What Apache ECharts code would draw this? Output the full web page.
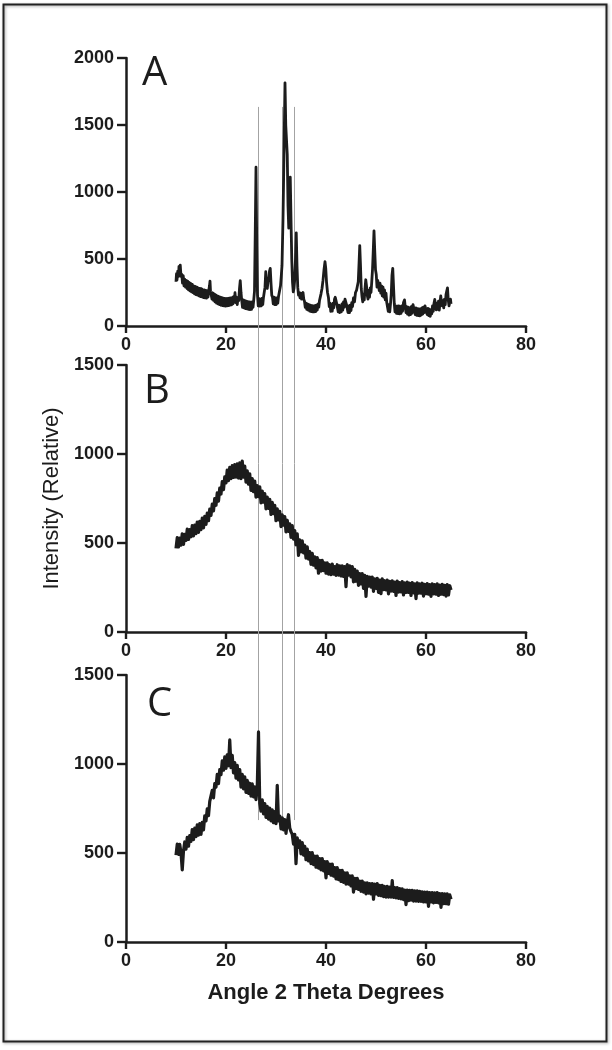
<!DOCTYPE html>
<html>
<head>
<meta charset="utf-8">
<script src="https://cdn.jsdelivr.net/npm/echarts@6.0.0/dist/echarts.min.js"></script>
<style>
  html, body { margin: 0; padding: 0; background: #ffffff; }
  #chart { width: 612px; height: 1050px; }
</style>
</head>
<body>
<div id="chart"></div>
<script>
// ---------- DATA ----------
const panelLabels = ['A', 'B', 'C'];
const xTicks = [0, 20, 40, 60, 80];
const yTicksA = [0, 500, 1000, 1500, 2000];
const yTicksBC = [0, 500, 1000, 1500];
const xTitle = 'Angle 2 Theta Degrees';
const yTitle = 'Intensity (Relative)';
const guideAngles = [26.4, 31.1, 33.5];
const guideTopA = 1635;     // intensity on panel A where guides start
const guideBottomC = 685;   // intensity on panel C where guides end

// Panel A: crystalline pattern, [angle, intensity]
const pointsA = [
  [10.0,330],[10.1,390],[10.2,345],[10.35,410],[10.5,370],[10.6,445],[10.75,400],[10.85,455],[11.0,370],[11.15,385],
  [11.3,320],[11.45,375],[11.6,300],[11.75,350],[11.9,290],[12.05,340],[12.2,280],[12.35,335],[12.5,270],[12.65,325],
  [12.8,262],[12.95,318],[13.1,255],[13.25,310],[13.4,250],[13.55,300],[13.7,240],[13.85,295],[14.0,235],[14.15,290],
  [14.3,230],[14.45,285],[14.6,225],[14.75,280],[14.9,220],[15.05,278],[15.2,218],[15.35,272],[15.5,212],[15.65,270],
  [15.8,210],[15.95,265],[16.1,208],[16.25,262],[16.4,215],[16.55,265],[16.7,300],[16.8,335],[16.9,260],[17.05,250],
  [17.2,200],[17.35,248],[17.5,192],[17.65,240],[17.8,180],[17.95,232],[18.1,170],[18.25,225],[18.4,165],[18.55,220],
  [18.7,160],[18.85,215],[19.0,155],[19.15,212],[19.3,152],[19.45,208],[19.6,150],[19.75,205],[19.9,148],[20.05,205],
  [20.2,150],[20.35,205],[20.5,152],[20.65,208],[20.8,155],[20.95,210],[21.1,158],[21.25,212],[21.4,165],[21.55,220],
  [21.7,205],[21.8,248],[21.95,175],[22.1,215],[22.25,160],[22.4,210],[22.55,190],[22.7,280],[22.85,338],[23.0,250],
  [23.15,190],[23.3,140],[23.45,195],[23.6,135],[23.75,190],[23.9,130],[24.05,185],[24.2,128],[24.35,182],[24.5,125],
  [24.65,180],[24.8,122],[24.95,178],[25.1,125],[25.25,180],[25.4,140],[25.55,195],[25.7,260],[25.85,700],[26.0,1185],
  [26.15,600],[26.3,230],[26.45,150],[26.6,205],[26.75,148],[26.9,200],[27.05,150],[27.2,205],[27.35,160],[27.5,215],
  [27.65,220],[27.8,290],[27.95,405],[28.1,310],[28.25,280],[28.4,330],[28.55,350],[28.7,410],[28.85,430],[29.0,320],
  [29.15,230],[29.3,215],[29.45,165],[29.6,215],[29.75,160],[29.9,210],[30.05,160],[30.2,210],[30.35,170],[30.5,220],
  [30.7,230],[30.9,300],[31.05,370],[31.2,450],[31.4,800],[31.6,1300],[31.8,1815],[31.95,1500],[32.1,1510],[32.25,1280],
  [32.4,900],[32.55,730],[32.7,950],[32.85,1110],[33.0,800],[33.15,500],[33.3,330],[33.45,255],[33.6,280],[33.75,350],
  [33.9,500],[34.05,695],[34.2,450],[34.35,290],[34.5,230],[34.65,250],[34.8,210],[34.95,245],[35.1,200],[35.25,235],
  [35.4,250],[35.55,200],[35.7,185],[35.85,140],[36.0,170],[36.15,125],[36.3,165],[36.45,118],[36.6,160],[36.75,112],
  [36.9,155],[37.05,108],[37.2,152],[37.35,105],[37.5,150],[37.65,105],[37.8,152],[37.95,108],[38.1,155],[38.25,118],
  [38.4,165],[38.55,140],[38.7,190],[38.85,195],[39.0,240],[39.2,280],[39.4,340],[39.6,420],[39.8,480],[39.95,430],
  [40.1,330],[40.3,250],[40.5,210],[40.65,145],[40.8,170],[40.95,110],[41.1,160],[41.25,112],[41.4,170],[41.55,135],
  [41.7,200],[41.85,215],[42.0,225],[42.15,165],[42.3,160],[42.45,105],[42.6,155],[42.75,100],[42.9,150],[43.05,105],
  [43.2,165],[43.35,118],[43.5,180],[43.65,140],[43.8,200],[43.95,210],[44.1,160],[44.25,150],[44.4,100],[44.55,150],
  [44.7,100],[44.85,155],[45.0,115],[45.15,175],[45.3,145],[45.5,210],[45.7,180],[45.9,250],[46.1,265],[46.3,255],
  [46.45,330],[46.6,460],[46.75,600],[46.9,450],[47.05,280],[47.2,220],[47.35,180],[47.5,240],[47.65,195],[47.8,280],
  [47.95,345],[48.1,300],[48.25,230],[48.4,200],[48.55,265],[48.7,215],[48.85,285],[49.0,250],[49.15,330],[49.3,420],
  [49.45,560],[49.6,710],[49.75,560],[49.9,420],[50.05,385],[50.2,290],[50.35,340],[50.5,345],[50.65,265],[50.8,320],
  [50.95,245],[51.1,300],[51.25,225],[51.4,290],[51.55,215],[51.7,270],[51.85,195],[52.0,245],[52.15,175],[52.3,175],
  [52.45,110],[52.6,160],[52.75,105],[52.9,165],[53.05,240],[53.2,380],[53.35,430],[53.5,300],[53.65,170],[53.8,105],
  [53.95,150],[54.1,95],[54.25,148],[54.4,92],[54.55,150],[54.7,90],[54.85,145],[55.0,95],[55.15,150],[55.3,110],
  [55.5,175],[55.7,195],[55.85,140],[56.0,100],[56.15,145],[56.3,88],[56.45,140],[56.6,82],[56.75,135],[56.9,85],
  [57.05,145],[57.2,95],[57.4,160],[57.55,165],[57.7,110],[57.85,85],[58.0,135],[58.15,80],[58.3,130],[58.45,78],
  [58.6,128],[58.75,75],[58.9,128],[59.05,82],[59.2,135],[59.35,88],[59.5,140],[59.65,100],[59.8,150],[59.95,150],
  [60.1,100],[60.25,85],[60.4,132],[60.55,78],[60.7,125],[60.85,72],[61.0,120],[61.15,90],[61.3,150],[61.45,110],
  [61.6,170],[61.75,198],[61.9,140],[62.05,120],[62.2,170],[62.35,125],[62.5,185],[62.65,118],[62.8,175],[62.95,225],
  [63.1,180],[63.25,150],[63.4,190],[63.55,135],[63.7,200],[63.85,160],[64.0,235],[64.15,260],[64.3,285],[64.45,195],
  [64.6,150],[64.75,140],[64.9,200],[65.0,165]
];

// Panels B and C: sampled every 0.25 degrees from 10 to 65
const angleStart = 10, angleStep = 0.25;
const intensityB = [
  470,530,478,528, 488,552,492,548, 515,578,520,575, 535,598,540,600,
  553,618,560,622, 575,640,585,650, 605,668,625,690, 655,718,680,750,
  712,782,735,808, 775,845,800,872, 838,910,850,925, 862,935,868,940,
  870,945,865,950, 862,960,870,932, 842,905,830,888, 795,862,788,848,
  758,822,760,815, 725,792,730,778, 692,758,695,745, 660,728,665,712,
  625,692,630,678, 592,658,600,648, 562,628,565,608, 532,598,522,570,
  490,552,430,518, 450,512,445,488, 415,478,410,452, 380,442,375,422,
  360,418,330,402, 342,402,345,388, 330,388,325,378, 322,382,325,368,
  318,378,320,372, 315,372,312,368, 255,378,320,372, 310,368,282,352,
  285,342,262,328, 270,328,245,318, 200,312,258,308, 252,308,228,298,
  245,302,222,292, 215,298,238,288, 236,292,214,284, 230,288,228,280,
  205,286,224,278, 225,283,208,276, 222,280,222,274, 205,278,220,270,
  188,276,218,270, 218,274,202,268, 215,272,212,266, 200,270,214,266,
  212,270,205,264, 212,268,210,262, 202,266,208,260, 236
];
const intensityC = [
  488,550,492,548, 500,405,512,562, 522,588,538,598, 565,632,575,640,
  592,658,600,665, 605,672,630,708, 680,748,710,790, 780,852,810,890,
  870,942,890,968, 940,1018,965,1040, 975,1052,990,1135, 980,1048,950,1008,
  920,992,910,968, 870,942,860,928, 840,908,835,892, 820,888,815,872,
  800,868,1180,780, 735,798,720,778, 700,762,690,752, 680,742,670,732,
  665,880,680,708, 635,698,630,688, 610,672,715,640, 620,605,550,605,
  440,585,532,568, 495,558,488,538, 462,522,455,502, 440,502,435,482,
  420,482,415,468, 405,468,400,452, 360,452,385,438, 375,438,370,418,
  355,418,350,402, 340,402,335,388, 325,388,325,372, 315,372,280,358,
  300,358,295,342, 285,342,280,332, 270,332,275,328, 270,328,240,325,
  270,328,262,318, 260,318,255,312, 252,312,252,308, 252,345,250,305,
  248,305,245,300, 242,298,238,292, 210,292,232,290, 235,290,230,288,
  230,288,228,285, 228,282,225,280, 225,280,200,278, 225,278,220,276,
  222,278,220,272, 195,272,215,270, 215,270,212,265, 240
];

// ---------- CHART ----------
const dataB = intensityB.map((v, i) => [angleStart + i * angleStep, v]);
const dataC = intensityC.map((v, i) => [angleStart + i * angleStep, v]);

const INK = '#1c1c1c';
const FONT = '"Liberation Sans", Arial, Helvetica, sans-serif';
const tickFont = { fontFamily: FONT, fontWeight: 'bold', fontSize: 18, color: INK };
const X_TICK_LEN = 7, Y_TICK_LEN = 9;

const grids = [
  { left: 126, top: 58, width: 400, height: 268 },
  { left: 126, top: 365, width: 400, height: 267 },
  { left: 126, top: 675, width: 400, height: 267 }
];

function xAxisFor(i) {
  return {
    type: 'value', gridIndex: i, min: xTicks[0], max: xTicks[xTicks.length - 1],
    interval: xTicks[1] - xTicks[0],
    axisLine: { show: true, onZero: false, lineStyle: { color: INK, width: 2.5 } },
    axisTick: { show: true, inside: false, length: X_TICK_LEN, lineStyle: { color: INK, width: 2.4 } },
    axisLabel: Object.assign({ margin: 10, formatter: v => String(v) }, tickFont),
    splitLine: { show: false },
    name: i === 2 ? xTitle : '',
    nameLocation: 'middle', nameGap: 40,
    nameTextStyle: { fontFamily: FONT, fontWeight: 'bold', fontSize: 22, color: INK }
  };
}
function yAxisFor(i, ticks) {
  return {
    type: 'value', gridIndex: i, min: ticks[0], max: ticks[ticks.length - 1],
    interval: ticks[1] - ticks[0],
    axisLine: { show: true, onZero: false, lineStyle: { color: INK, width: 2.5 } },
    axisTick: { show: true, inside: false, length: Y_TICK_LEN, lineStyle: { color: INK, width: 2.4 } },
    axisLabel: Object.assign({ margin: 12, formatter: v => String(v) }, tickFont),
    splitLine: { show: false },
    name: i === 1 ? yTitle : '',
    nameLocation: 'middle', nameGap: 60, nameRotate: 90,
    nameTextStyle: { fontFamily: FONT, fontWeight: 'normal', fontSize: 22, color: INK }
  };
}

function lineSeries(i, data, w) {
  return {
    type: 'line', xAxisIndex: i, yAxisIndex: i, data: data,
    showSymbol: false, symbol: 'none', smooth: false, sampling: null,
    lineStyle: { color: INK, width: w, join: 'round' },
    silent: true, animation: false
  };
}

const chart = echarts.init(document.getElementById('chart'), null, { renderer: 'canvas' });
chart.setOption({
  backgroundColor: '#ffffff',
  animation: false,
  grid: grids.map(g => Object.assign({ outerBoundsMode: 'none', containLabel: false }, g)),
  xAxis: [xAxisFor(0), xAxisFor(1), xAxisFor(2)],
  yAxis: [yAxisFor(0, yTicksA), yAxisFor(1, yTicksBC), yAxisFor(2, yTicksBC)],
  series: [lineSeries(0, pointsA, 2.8), lineSeries(1, dataB, 3.2), lineSeries(2, dataC, 3.2)]
});

// Frame, guide lines and panel letters, positioned through the axes' scales
const graphics = [
  {
    type: 'rect', z: 10,
    shape: { x: 3.5, y: 4.5, width: 603, height: 1037 },
    style: { fill: 'none', stroke: '#222222', lineWidth: 2, shadowBlur: 3, shadowColor: 'rgba(0,0,0,0.35)', shadowOffsetX: 1, shadowOffsetY: 1 }
  }
];
const yTopPx = chart.convertToPixel({ yAxisIndex: 0 }, guideTopA);
const yBotPx = chart.convertToPixel({ yAxisIndex: 2 }, guideBottomC);
guideAngles.forEach(a => {
  const x = Math.round(chart.convertToPixel({ xAxisIndex: 0 }, a)) + 0.5;
  graphics.push({
    type: 'line', z: 1,
    shape: { x1: x, y1: yTopPx, x2: x, y2: yBotPx },
    style: { stroke: '#a3a3a3', lineWidth: 1 }
  });
});
const letterAnchors = [[0, 3.2, 1880], [1, 3.6, 1350], [2, 4.2, 1335]];
letterAnchors.forEach(([gi, a, v], k) => {
  const px = chart.convertToPixel({ xAxisIndex: gi, yAxisIndex: gi }, [a, v]);
  graphics.push({
    type: 'text', z: 5,
    x: px[0], y: px[1],
    style: { text: panelLabels[k], fontFamily: '"Open Sans", "Liberation Sans", sans-serif', fontSize: 40, fill: INK, align: 'left', verticalAlign: 'middle' }
  });
});
chart.setOption({ graphic: graphics });
</script>
</body>
</html>
